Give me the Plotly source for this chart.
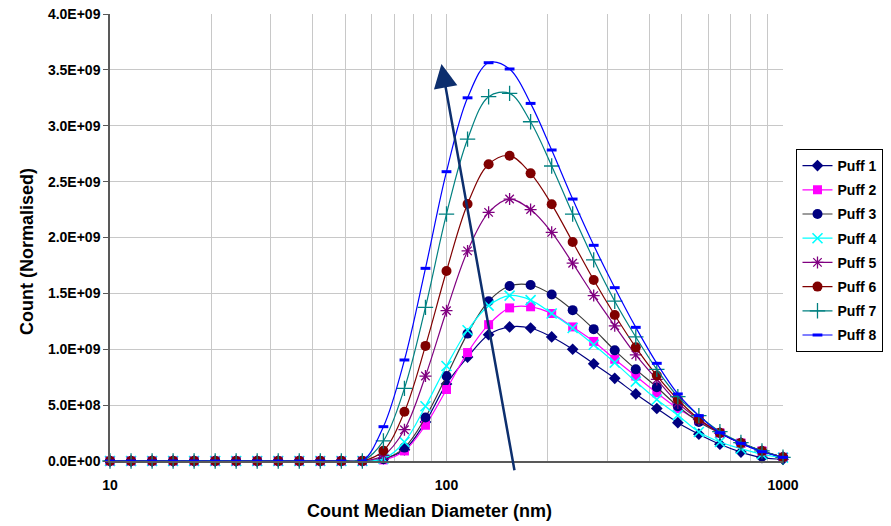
import math
import plotly.graph_objects as go

# ---------------- data ----------------
diameter_nm = [10.0, 11.55, 13.34, 15.4, 17.78, 20.54, 23.71, 27.38, 31.62, 36.52, 42.17,
               48.7, 56.23, 64.94, 74.99, 86.6, 100.0, 115.5, 133.4, 154.0, 177.8, 205.4,
               237.1, 273.8, 316.2, 365.2, 421.7, 487.0, 562.3, 649.4, 749.9, 866.0, 1000.0]

SCALE = 1e9  # values below are in units of 1E+09

puff1 = [0, 0, 0, 0, 0, 0, 0, 0, 0, 0, 0, 0, 0,
         0.02, 0.10, 0.35, 0.69, 0.93, 1.13, 1.20, 1.19, 1.11, 1.00, 0.87, 0.74, 0.60,
         0.47, 0.343, 0.24, 0.15, 0.08, 0.03, 0.015]
puff2 = [0, 0, 0, 0, 0, 0, 0, 0, 0, 0, 0, 0, 0,
         0.01, 0.09, 0.32, 0.64, 0.97, 1.22, 1.37, 1.38, 1.32, 1.20, 1.07, 0.91, 0.76,
         0.61, 0.47, 0.36, 0.25, 0.16, 0.09, 0.033]
puff3 = [0, 0, 0, 0, 0, 0, 0, 0, 0, 0, 0, 0, 0,
         0.015, 0.12, 0.39, 0.76, 1.14, 1.43, 1.566, 1.575, 1.49, 1.35, 1.18, 0.99, 0.82,
         0.66, 0.49, 0.35, 0.25, 0.16, 0.088, 0.033]
puff4 = [0, 0, 0, 0, 0, 0, 0, 0, 0, 0, 0, 0, 0,
         0.02, 0.17, 0.49, 0.85, 1.17, 1.39, 1.48, 1.44, 1.32, 1.19, 1.04, 0.88, 0.71,
         0.55, 0.41, 0.26, 0.17, 0.11, 0.06, 0.03]
puff5 = [0, 0, 0, 0, 0, 0, 0, 0, 0, 0, 0, 0, 0,
         0.05, 0.28, 0.76, 1.345, 1.88, 2.225, 2.344, 2.25, 2.046, 1.77, 1.48, 1.21, 0.95,
         0.73, 0.52, 0.37, 0.25, 0.16, 0.088, 0.033]
puff6 = [0, 0, 0, 0, 0, 0, 0, 0, 0, 0, 0, 0, 0,
         0.092, 0.44, 1.03, 1.70, 2.30, 2.655, 2.732, 2.574, 2.297, 1.96, 1.62, 1.306, 1.017,
         0.765, 0.55, 0.375, 0.253, 0.16, 0.089, 0.033]
puff7 = [0, 0, 0, 0, 0, 0, 0, 0, 0, 0, 0, 0, 0,
         0.18, 0.65, 1.375, 2.21, 2.88, 3.26, 3.29, 3.036, 2.64, 2.21, 1.80, 1.43, 1.11,
         0.82, 0.576, 0.406, 0.262, 0.165, 0.09, 0.033]
puff8 = [0, 0, 0, 0, 0, 0, 0, 0, 0, 0, 0, 0, 0,
         0.307, 0.904, 1.724, 2.589, 3.25, 3.564, 3.508, 3.20, 2.783, 2.344, 1.93, 1.551, 1.196,
         0.874, 0.60, 0.406, 0.253, 0.158, 0.083, 0.033]

series_names = ["Puff 1", "Puff 2", "Puff 3", "Puff 4", "Puff 5", "Puff 6", "Puff 7", "Puff 8"]
series_values = [puff1, puff2, puff3, puff4, puff5, puff6, puff7, puff8]

y_tickvals = [0, 0.5e9, 1.0e9, 1.5e9, 2.0e9, 2.5e9, 3.0e9, 3.5e9, 4.0e9]
y_ticktext = ["0.0E+00", "5.0E+08", "1.0E+09", "1.5E+09", "2.0E+09",
              "2.5E+09", "3.0E+09", "3.5E+09", "4.0E+09"]

x_gridvals = [10, 20, 30, 40, 50, 60, 70, 80, 90, 100, 200, 300, 400, 500, 600, 700, 800, 900, 1000]
x_labels = {10: "10", 100: "100", 1000: "1000"}

x_title = "Count Median Diameter (nm)"
y_title = "Count (Normalised)"

# trend arrow (nm, count): from tail to head
arrow_tail = (159.5, -0.096e9)
arrow_head = (96.6, 3.553e9)

# ---------------- styles ----------------
styles = [
    dict(line="#000080", symbol="diamond", mcolor="#000080", size=9, mlw=0),
    dict(line="#FF00FF", symbol="square", mcolor="#FF00FF", size=9, mlw=0),
    dict(line="#3A3A3A", symbol="circle", mcolor="#000080", size=10, mlw=0),
    dict(line="#00FFFF", symbol="x-thin", mcolor="#00FFFF", size=10, mlw=1.6),
    dict(line="#800080", symbol="asterisk", mcolor="#800080", size=10, mlw=1.3),
    dict(line="#800000", symbol="circle", mcolor="#800000", size=10, mlw=0),
    dict(line="#008080", symbol="cross-thin", mcolor="#008080", size=11, mlw=1.3),
    dict(line="#0000FF", symbol="line-ew", mcolor="#0000FF", size=7, mlw=3),
]

FONT = "Arial, 'Liberation Sans', sans-serif"
PLOT_L, PLOT_R, PLOT_T, PLOT_B = 110, 783.5, 14, 461
W, H = 891, 526


def px_to_paper(px, py):
    return ((px - PLOT_L) / (PLOT_R - PLOT_L), (PLOT_B - py) / (PLOT_B - PLOT_T))


fig = go.Figure()
for i, (name, vals, st) in enumerate(zip(series_names, series_values, styles)):
    fig.add_trace(go.Scatter(
        x=diameter_nm,
        y=[v * SCALE for v in vals],
        name=name,
        mode="lines+markers",
        legendgroup=name,
        line=dict(color=st["line"], width=1.2, shape="spline", smoothing=1.0),
        marker=dict(symbol=st["symbol"], size=st["size"], color=st["mcolor"],
                    line=dict(color=st["mcolor"], width=st["mlw"])),
        cliponaxis=False,
    ))

fig.add_annotation(
    x=math.log10(arrow_head[0]), y=arrow_head[1],
    ax=math.log10(arrow_tail[0]), ay=arrow_tail[1],
    xref="x", yref="y", axref="x", ayref="y",
    text="", showarrow=True,
    arrowhead=2, arrowsize=1.9, arrowwidth=2.5, arrowcolor="#0D2F6E",
    standoff=0, startstandoff=0,
)

# axis titles placed as annotations (positions in paper coordinates)
xt = px_to_paper(430, 511)
fig.add_annotation(x=xt[0], y=xt[1], xref="paper", yref="paper", text=x_title,
                   showarrow=False, xanchor="center", yanchor="middle",
                   font=dict(family=FONT, size=18, weight="bold", color="black"))
yt = px_to_paper(27, 252)
fig.add_annotation(x=yt[0], y=yt[1], xref="paper", yref="paper", text=y_title,
                   showarrow=False, xanchor="center", yanchor="middle", textangle=-90,
                   font=dict(family=FONT, size=18, weight="bold", color="black"))

lg = px_to_paper(797, 149)
fig.update_layout(
    width=W, height=H,
    margin=dict(l=PLOT_L, r=W - PLOT_R, t=PLOT_T, b=H - PLOT_B, autoexpand=False),
    paper_bgcolor="white", plot_bgcolor="white",
    font=dict(family=FONT, color="black"),
    showlegend=True,
    legend=dict(
        x=lg[0], y=lg[1], xanchor="left", yanchor="top",
        bgcolor="white", bordercolor="black", borderwidth=1,
        font=dict(family=FONT, size=14, weight="bold"),
        tracegroupgap=3,
    ),
    xaxis=dict(
        type="log", range=[1, 3], automargin=False,
        tickvals=x_gridvals,
        ticktext=[x_labels.get(v, "") for v in x_gridvals],
        ticks="outside", ticklen=10, tickcolor="rgba(0,0,0,0)",
        tickfont=dict(family=FONT, size=14, weight="bold"),
        showgrid=True, gridcolor="#C8C8C8", gridwidth=1,
        showline=True, linecolor="#595959", linewidth=1.5,
        zeroline=False,
    ),
    yaxis=dict(
        range=[0, 4e9], automargin=False,
        tickvals=y_tickvals, ticktext=y_ticktext,
        ticks="outside", ticklen=5, tickcolor="#595959",
        tickfont=dict(family=FONT, size=14, weight="bold"),
        showgrid=True, gridcolor="#C8C8C8", gridwidth=1,
        showline=True, linecolor="#595959", linewidth=1.5,
        zeroline=False,
    ),
)

fig.write_html("out.html")
